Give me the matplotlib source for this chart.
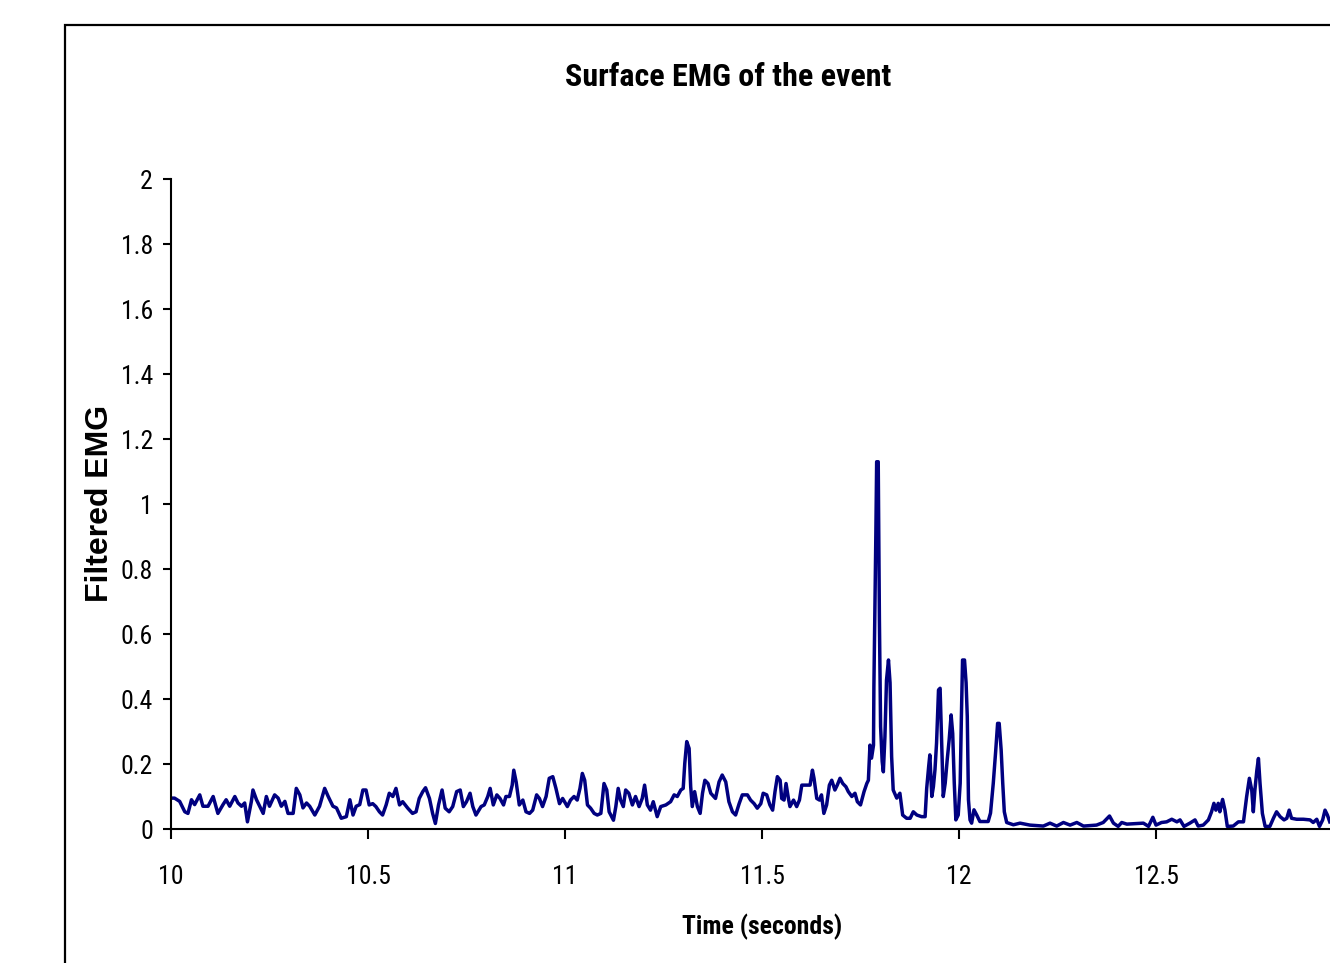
import matplotlib
matplotlib.use('Agg')
import matplotlib.pyplot as plt
from matplotlib import font_manager
from matplotlib.patches import Rectangle

# filtered EMG trace in pieces (time in s, value)
T_A = [10.001, 10.009, 10.022, 10.035, 10.043, 10.052, 10.060, 10.073, 10.081, 10.094,
       10.107, 10.119, 10.132, 10.140, 10.149, 10.162, 10.170, 10.179, 10.187, 10.194,
       10.204, 10.208, 10.217, 10.225, 10.234, 10.242, 10.250, 10.263, 10.272, 10.280,
       10.289, 10.297, 10.310, 10.318, 10.327, 10.335, 10.344, 10.352, 10.365, 10.377,
       10.390, 10.399, 10.411, 10.420, 10.432, 10.445, 10.454, 10.462, 10.470, 10.479,
       10.487]
V_A = [0.095, 0.095, 0.085, 0.053, 0.048, 0.09, 0.075, 0.105, 0.07, 0.07,
       0.10, 0.048, 0.075, 0.09, 0.07, 0.10, 0.08, 0.07, 0.08, 0.022,
       0.085, 0.12, 0.09, 0.07, 0.048, 0.10, 0.07, 0.105, 0.095, 0.07,
       0.085, 0.048, 0.048, 0.125, 0.105, 0.065, 0.08, 0.07, 0.043, 0.07,
       0.125, 0.10, 0.07, 0.065, 0.033, 0.038, 0.09, 0.043, 0.07, 0.075,
       0.12]

T_B = [10.495, 10.503, 10.512, 10.520, 10.529, 10.537, 10.546, 10.554, 10.563, 10.571,
       10.580, 10.588, 10.601, 10.613, 10.622, 10.630, 10.639, 10.646, 10.656, 10.664,
       10.671, 10.679, 10.688, 10.696, 10.706, 10.715, 10.725, 10.734, 10.742, 10.750,
       10.759, 10.766, 10.774, 10.787, 10.795, 10.804, 10.810, 10.818, 10.827, 10.835,
       10.844, 10.850, 10.859, 10.866, 10.870, 10.876, 10.884, 10.893, 10.901, 10.910,
       10.918, 10.928, 10.935, 10.943, 10.952, 10.960, 10.969, 10.977, 10.986, 10.994]
V_B = [0.12, 0.074, 0.078, 0.069, 0.053, 0.043, 0.074, 0.11, 0.10, 0.125,
       0.074, 0.084, 0.064, 0.048, 0.053, 0.094, 0.115, 0.127, 0.094, 0.048,
       0.017, 0.074, 0.12, 0.064, 0.053, 0.069, 0.115, 0.12, 0.069, 0.084,
       0.11, 0.069, 0.043, 0.069, 0.074, 0.10, 0.125, 0.074, 0.105, 0.094,
       0.074, 0.10, 0.10, 0.135, 0.181, 0.145, 0.074, 0.089, 0.053, 0.048,
       0.058, 0.105, 0.094, 0.069, 0.10, 0.156, 0.161, 0.125, 0.078, 0.094]

T_C = [11.006, 11.014, 11.023, 11.031, 11.038, 11.044, 11.050, 11.057, 11.065, 11.074,
       11.082, 11.091, 11.099, 11.106, 11.112, 11.123, 11.129, 11.135, 11.141, 11.148,
       11.154, 11.162, 11.171, 11.179, 11.188, 11.196, 11.202, 11.209, 11.217, 11.224,
       11.234, 11.243, 11.256, 11.268, 11.277, 11.285, 11.294, 11.300, 11.304, 11.309,
       11.315, 11.319, 11.323, 11.329, 11.336, 11.343, 11.349, 11.355, 11.363, 11.370,
       11.382, 11.391, 11.399, 11.408, 11.416, 11.425, 11.433, 11.442, 11.450, 11.463,
       11.471, 11.480, 11.488, 11.497]
V_C = [0.069, 0.089, 0.10, 0.089, 0.125, 0.171, 0.15, 0.074, 0.064, 0.048,
       0.043, 0.048, 0.14, 0.12, 0.053, 0.027, 0.069, 0.125, 0.089, 0.069,
       0.12, 0.11, 0.074, 0.10, 0.069, 0.094, 0.135, 0.074, 0.058, 0.084,
       0.038, 0.069, 0.074, 0.084, 0.105, 0.10, 0.12, 0.125, 0.202, 0.269,
       0.248, 0.13, 0.069, 0.115, 0.069, 0.048, 0.11, 0.15, 0.14, 0.11,
       0.094, 0.145, 0.166, 0.145, 0.084, 0.053, 0.043, 0.078, 0.105, 0.105,
       0.089, 0.078, 0.064, 0.078]

T_D = [11.503, 11.512, 11.520, 11.527, 11.533, 11.539, 11.546, 11.550, 11.556, 11.561,
       11.567, 11.571, 11.580, 11.588, 11.595, 11.601, 11.613, 11.622, 11.628, 11.632,
       11.639, 11.646, 11.651, 11.657, 11.664, 11.671, 11.677, 11.685, 11.691, 11.698,
       11.705, 11.713, 11.719, 11.728, 11.736, 11.742, 11.750, 11.759, 11.766, 11.770]
V_D = [0.11, 0.105, 0.074, 0.058, 0.115, 0.161, 0.15, 0.094, 0.089, 0.14,
       0.094, 0.069, 0.089, 0.069, 0.089, 0.135, 0.135, 0.135, 0.181, 0.156,
       0.094, 0.089, 0.105, 0.048, 0.074, 0.135, 0.15, 0.12, 0.135, 0.156,
       0.14, 0.13, 0.115, 0.10, 0.11, 0.084, 0.074, 0.115, 0.14, 0.15]

T_E = [11.774, 11.778, 11.783, 11.784, 11.789, 11.791, 11.795, 11.798, 11.801, 11.805,
       11.808, 11.812, 11.816, 11.821, 11.825, 11.829, 11.833, 11.842, 11.850, 11.857,
       11.867, 11.876, 11.884, 11.893, 11.905, 11.914, 11.918, 11.923, 11.926, 11.931,
       11.935, 11.939, 11.943, 11.948, 11.952, 11.956, 11.960, 11.965, 11.970, 11.975,
       11.980, 11.984, 11.988, 11.992, 11.998, 12.003, 12.006, 12.009, 12.014, 12.018,
       12.021, 12.024, 12.028, 12.032, 12.038, 12.045, 12.053, 12.062, 12.074, 12.080,
       12.087, 12.093, 12.098, 12.102, 12.107, 12.111, 12.115, 12.121, 12.138, 12.155]
V_E = [0.258, 0.218, 0.258, 0.438, 0.91, 1.13, 1.13, 0.643, 0.315, 0.208,
       0.176, 0.284, 0.458, 0.52, 0.45, 0.223, 0.12, 0.095, 0.11, 0.043,
       0.033, 0.033, 0.053, 0.043, 0.038, 0.038, 0.125, 0.192, 0.228, 0.1,
       0.13, 0.182, 0.264, 0.428, 0.433, 0.264, 0.1, 0.141, 0.212, 0.274,
       0.351, 0.294, 0.141, 0.028, 0.043, 0.141, 0.341, 0.52, 0.52, 0.45,
       0.346, 0.09, 0.028, 0.018, 0.059, 0.043, 0.023, 0.023, 0.023, 0.049,
       0.141, 0.238, 0.325, 0.325, 0.243, 0.141, 0.053, 0.02, 0.013, 0.018]

T_F = [12.180, 12.214, 12.231, 12.248, 12.265, 12.282, 12.299, 12.316, 12.349, 12.366,
       12.382, 12.392, 12.404, 12.413, 12.426, 12.468, 12.481, 12.492, 12.500, 12.514,
       12.527, 12.540, 12.553, 12.561, 12.571, 12.586, 12.599, 12.607, 12.620, 12.633,
       12.641, 12.647, 12.652, 12.658, 12.662, 12.669, 12.675, 12.681, 12.696, 12.709,
       12.722, 12.730, 12.737, 12.743, 12.747, 12.751, 12.756, 12.760, 12.764, 12.770,
       12.777, 12.789, 12.798, 12.806, 12.815, 12.825, 12.832, 12.838, 12.844, 12.857,
       12.874, 12.891, 12.899, 12.908, 12.915, 12.923, 12.929, 12.935, 12.941]
V_F = [0.012, 0.009, 0.018, 0.009, 0.02, 0.012, 0.02, 0.009, 0.012, 0.02,
       0.04, 0.018, 0.008, 0.02, 0.015, 0.018, 0.008, 0.036, 0.012, 0.02,
       0.022, 0.03, 0.022, 0.028, 0.008, 0.018, 0.028, 0.009, 0.012, 0.028,
       0.053, 0.079, 0.058, 0.079, 0.053, 0.091, 0.058, 0.008, 0.009, 0.022,
       0.022, 0.099, 0.156, 0.12, 0.053, 0.12, 0.181, 0.217, 0.141, 0.048,
       0.008, 0.008, 0.033, 0.053, 0.038, 0.028, 0.033, 0.058, 0.033, 0.03,
       0.03, 0.028, 0.02, 0.03, 0.008, 0.028, 0.058, 0.043, 0.022]

X_TICKS = [10, 10.5, 11, 11.5, 12, 12.5]
Y_TICKS = [0, 0.2, 0.4, 0.6, 0.8, 1, 1.2, 1.4, 1.6, 1.8, 2]

TITLE = 'Surface EMG of the event'
XLABEL = 'Time (seconds)'
YLABEL = 'Filtered EMG'


def pick_narrow():
    names = {f.name for f in font_manager.fontManager.ttflist}
    for cand in ['Liberation Sans Narrow', 'Arial Narrow', 'Roboto Condensed',
                 'Open Sans Condensed', 'DejaVu Sans Condensed']:
        if cand in names:
            return cand, True
    return 'Liberation Sans', False


def main():
    narrow, is_narrow = pick_narrow()
    # the reference uses a condensed face; shrink a little if none is installed
    k = 1.0 if is_narrow else 0.86

    times = T_A + T_B + T_C + T_D + T_E + T_F
    values = V_A + V_B + V_C + V_D + V_E + V_F

    fig = plt.figure(figsize=(13.3, 9.63), dpi=100)
    # outer chart frame, cut off on the right and bottom
    fig.patches.append(Rectangle((65 / 1330, -0.1), 1.0, 0.974 + 0.1,
                                 transform=fig.transFigure, fill=False,
                                 edgecolor='black', linewidth=1.6))

    ax = fig.add_axes([171 / 1330, 134 / 963, 1182 / 1330, 650 / 963])
    ax.plot(times, values, color='#000080', linewidth=2.5)
    ax.set_xlim(10, 13)
    ax.set_ylim(0, 2)
    ax.set_xticks(X_TICKS)
    ax.set_yticks(Y_TICKS)
    ax.set_xticklabels(['%g' % x for x in X_TICKS], fontfamily=narrow, fontsize=18.5 * k)
    ax.set_yticklabels(['%g' % y for y in Y_TICKS], fontfamily=narrow, fontsize=18.5 * k)
    ax.tick_params(axis='x', direction='out', length=7, width=1.5, pad=19)
    ax.tick_params(axis='y', direction='out', length=6, width=1.5, pad=7)
    ax.spines['top'].set_visible(False)
    ax.spines['right'].set_visible(False)
    ax.spines['left'].set_linewidth(1.5)
    ax.spines['bottom'].set_linewidth(1.5)

    fig.text(728 / 1330, 1 - 77 / 963, TITLE, ha='center', va='center',
             fontfamily=narrow, fontweight='bold', fontsize=23 * k)
    fig.text(762 / 1330, 1 - 927 / 963, XLABEL, ha='center', va='center',
             fontfamily=narrow, fontweight='bold', fontsize=18.5 * k)
    fig.text(100 / 1330, 1 - 503 / 963, YLABEL, ha='center', va='center',
             rotation=90, fontfamily='Liberation Sans', fontweight='bold', fontsize=23)

    fig.savefig('out.png', dpi=100)


if __name__ == '__main__':
    main()
